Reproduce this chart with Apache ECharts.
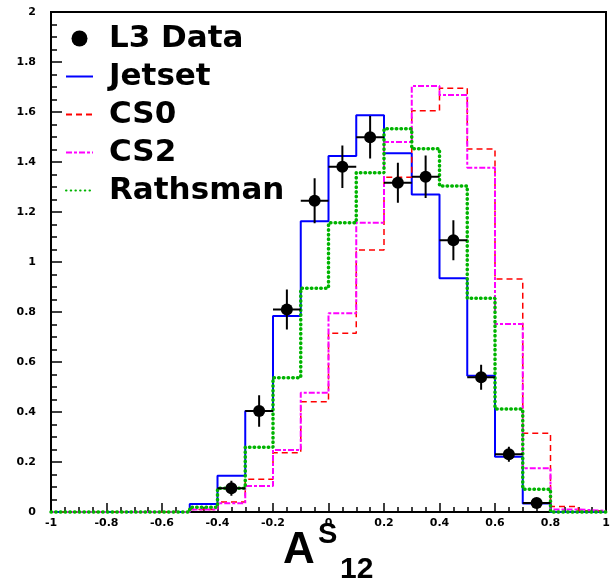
<!DOCTYPE html>
<html>
<head>
<meta charset="UTF-8">
<title>A12 S</title>
<script src="https://cdn.jsdelivr.net/npm/echarts@6.0.0/dist/echarts.min.js"></script>
<style>
  body { margin: 0; background: #fff; }
  #main { width: 610px; height: 582px; }
</style>
</head>
<body>
<div id="main"></div>
<script>
// histogram bin edges (20 bins of width 0.1)
var binEdges = [-1, -0.9, -0.8, -0.7, -0.6, -0.5, -0.4, -0.3, -0.2, -0.1, 0,
                0.1, 0.2, 0.3, 0.4, 0.5, 0.6, 0.7, 0.8, 0.9, 1];

// bin contents
var jetset   = [0, 0, 0, 0, 0, 0.032, 0.145, 0.404, 0.784, 1.163, 1.424, 1.587, 1.435, 1.27, 0.935, 0.545, 0.221, 0.034, 0, 0];
var cs0      = [0, 0, 0, 0, 0, 0.01, 0.04, 0.131, 0.237, 0.441, 0.715, 1.048, 1.339, 1.605, 1.695, 1.452, 0.932, 0.315, 0.022, 0.005];
var cs2      = [0, 0, 0, 0, 0, 0.01, 0.035, 0.104, 0.248, 0.477, 0.795, 1.157, 1.48, 1.704, 1.668, 1.377, 0.752, 0.175, 0.01, 0.005];
var rathsman = [0, 0, 0, 0, 0, 0.019, 0.095, 0.259, 0.537, 0.895, 1.157, 1.357, 1.533, 1.453, 1.304, 0.855, 0.412, 0.091, 0, 0];

// L3 data points
var dataX   = [-0.35, -0.25, -0.15, -0.05, 0.05, 0.15, 0.25, 0.35, 0.45, 0.55, 0.65, 0.75];
var dataY   = [0.095, 0.404, 0.81, 1.245, 1.381, 1.499, 1.317, 1.341, 1.087, 0.539, 0.231, 0.036];
var dataErr = [0.03, 0.063, 0.08, 0.09, 0.085, 0.085, 0.08, 0.085, 0.08, 0.05, 0.03, 0.012];
var halfBin = 0.05;

var font = 'DejaVu Sans';
var noFill = 'rgba(0,0,0,0)'; // hides the legend dot on line entries

// step outline: one point per left edge plus the last right edge
function histPoints(vals) {
    var pts = [];
    for (var i = 0; i < vals.length; i++) {
        pts.push([binEdges[i], vals[i]]);
    }
    pts.push([binEdges[vals.length], vals[vals.length - 1]]);
    return pts;
}

var points = [];
for (var i = 0; i < dataX.length; i++) {
    points.push([dataX[i], dataY[i], dataErr[i]]);
}

var myChart = echarts.init(document.getElementById('main'));

myChart.setOption({
    animation: false,
    textStyle: { fontFamily: font },
    grid: {
        left: 51, right: 4, top: 12, bottom: 70,
        show: true, borderColor: '#000', borderWidth: 2,
        outerBoundsMode: 'none'
    },
    legend: {
        orient: 'vertical',
        left: 65, top: 23,
        padding: 0,
        itemWidth: 27, itemHeight: 16, itemGap: 7,
        data: ['L3 Data', 'Jetset', 'CS0', 'CS2', 'Rathsman'],
        textStyle: {
            fontFamily: font, fontSize: 31, fontWeight: 'bold',
            color: '#000', lineHeight: 30, padding: [0, 0, 0, 11]
        }
    },
    xAxis: {
        type: 'value', min: -1, max: 1, interval: 0.2,
        axisLine: { onZero: false, lineStyle: { color: '#000', width: 2 } },
        axisTick: { inside: true, length: 9, lineStyle: { color: '#000', width: 1.5 } },
        minorTick: { show: true, splitNumber: 4, length: 5, lineStyle: { color: '#000', width: 1.5 } },
        axisLabel: { margin: 6, fontSize: 11, fontWeight: 'bold', color: '#000', fontFamily: font },
        splitLine: { show: false }
    },
    yAxis: {
        type: 'value', min: 0, max: 2, interval: 0.2,
        axisLine: { show: true, onZero: false, lineStyle: { color: '#000', width: 2 } },
        axisTick: { show: true, inside: true, length: 11, lineStyle: { color: '#000', width: 1.5 } },
        minorTick: { show: true, splitNumber: 4, length: 6, lineStyle: { color: '#000', width: 1.5 } },
        axisLabel: { margin: 15, fontSize: 11, fontWeight: 'bold', color: '#000', fontFamily: font },
        splitLine: { show: false }
    },
    graphic: [
        { type: 'text', left: 283, top: 529, z: 100,
          style: { text: 'A', fontFamily: 'Liberation Sans', fontSize: 44, fontWeight: 'bold', fill: '#000' } },
        { type: 'text', left: 318, top: 520, z: 100,
          style: { text: 'S', fontFamily: 'Liberation Sans', fontSize: 29, fontWeight: 'bold', fill: '#000' } },
        { type: 'text', left: 340, top: 555, z: 100,
          style: { text: '12', fontFamily: 'Liberation Sans', fontSize: 30, fontWeight: 'bold', fill: '#000' } }
    ],
    series: [
        {
            name: 'Jetset', type: 'line', step: 'end', symbol: 'none', clip: false,
            data: histPoints(jetset),
            lineStyle: { color: '#0000ff', width: 2 },
            itemStyle: { color: noFill }
        },
        {
            name: 'CS0', type: 'line', step: 'end', symbol: 'none', clip: false,
            data: histPoints(cs0),
            lineStyle: { color: '#ff0000', width: 1.5, type: [6, 4] },
            itemStyle: { color: noFill }
        },
        {
            name: 'CS2', type: 'line', step: 'end', symbol: 'none', clip: false,
            data: histPoints(cs2),
            lineStyle: { color: '#ff00ff', width: 2, type: [6, 2, 3, 2] },
            itemStyle: { color: noFill }
        },
        {
            name: 'Rathsman', type: 'line', step: 'end', symbol: 'none', clip: false,
            data: histPoints(rathsman),
            lineStyle: { color: '#00b400', width: 3.5, type: [0.5, 4.2], cap: 'round' },
            itemStyle: { color: noFill }
        },
        {
            type: 'custom', z: 5,
            data: points,
            encode: { x: 0, y: 1 },
            renderItem: function (params, api) {
                var x = api.value(0), y = api.value(1), e = api.value(2);
                var l = api.coord([x - halfBin, y]);
                var r = api.coord([x + halfBin, y]);
                var t = api.coord([x, y + e]);
                var b = api.coord([x, y - e]);
                var st = { stroke: '#000', lineWidth: 2 };
                return {
                    type: 'group',
                    children: [
                        { type: 'line', shape: { x1: l[0], y1: l[1], x2: r[0], y2: r[1] }, style: st },
                        { type: 'line', shape: { x1: t[0], y1: t[1], x2: b[0], y2: b[1] }, style: st }
                    ]
                };
            }
        },
        {
            name: 'L3 Data', type: 'scatter', z: 6,
            symbol: 'circle', symbolSize: 12,
            data: points,
            itemStyle: { color: '#000', opacity: 1 }
        }
    ]
});
</script>
</body>
</html>
